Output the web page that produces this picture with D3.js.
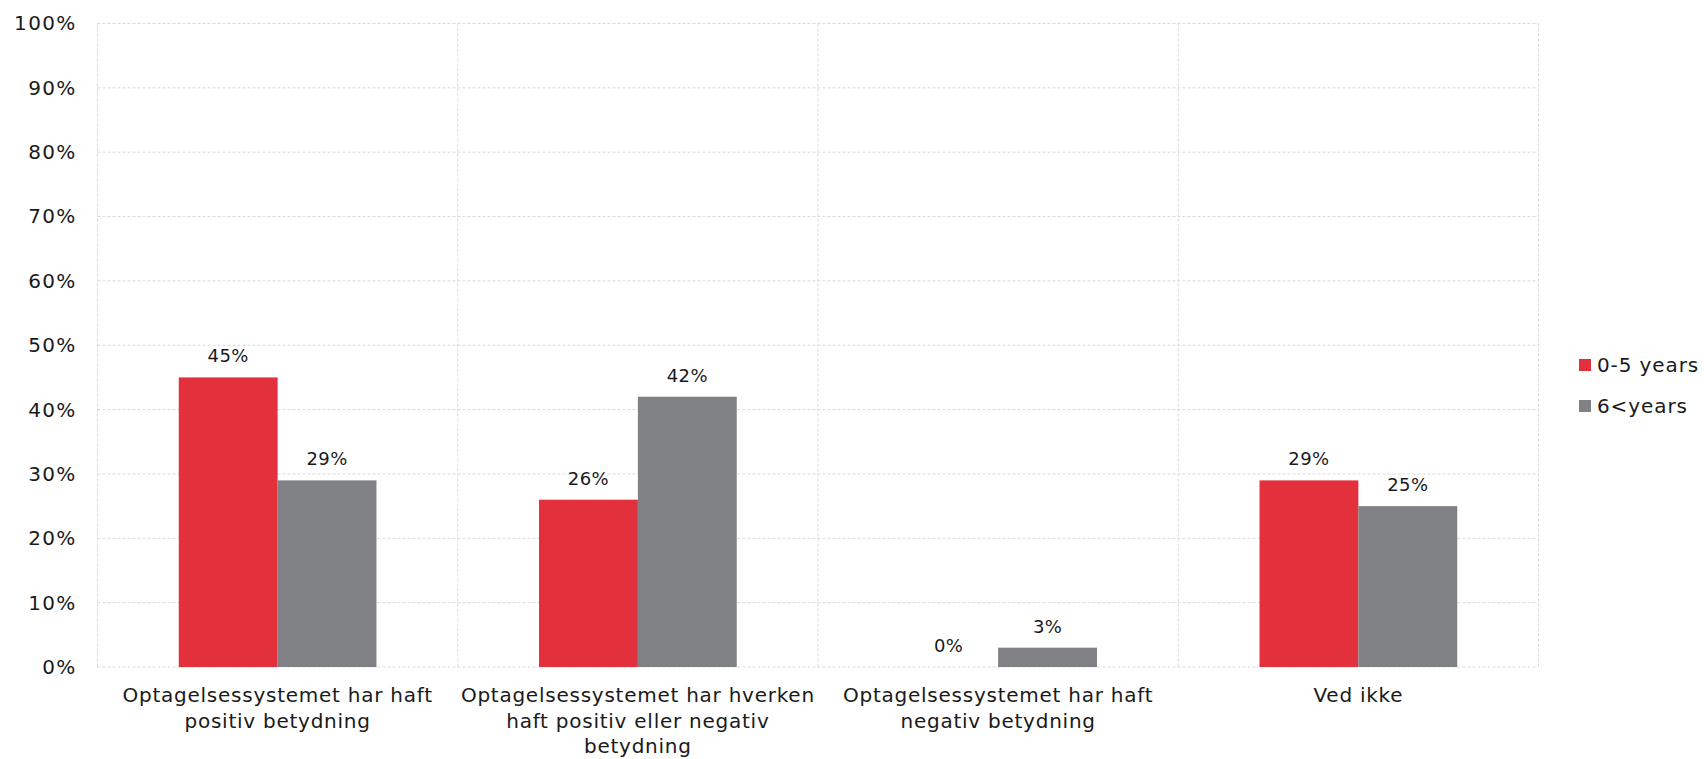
<!DOCTYPE html>
<html>
<head>
<meta charset="utf-8">
<script src="https://cdn.jsdelivr.net/npm/d3@7"></script>
<style>
  html, body { margin: 0; padding: 0; background: #ffffff; }
  svg { display: block; font-family: "DejaVu Sans", Verdana, sans-serif; }
</style>
</head>
<body>
<svg id="chart" width="1704" height="759"></svg>
<script>
// Survey answers by years of experience
const categories = [
  "Optagelsessystemet har haft positiv betydning",
  "Optagelsessystemet har hverken haft positiv eller negativ betydning",
  "Optagelsessystemet har haft negativ betydning",
  "Ved ikke"
];
const seriesNames = ["0-5 years", "6<years"];
const seriesColors = ["#e2313d", "#808184"];
const values05 = [0.45, 0.26, 0.00, 0.29];
const values6plus = [0.29, 0.42, 0.03, 0.25];
const yTicks = [0, 0.1, 0.2, 0.3, 0.4, 0.5, 0.6, 0.7, 0.8, 0.9, 1.0];

const seriesValues = [values05, values6plus];

const svg = d3.select("#chart");
const margin = { left: 97.5, right: 1704 - 1538.5, top: 23.5, bottom: 759 - 667 };
const W = 1704, H = 759;
const plotW = W - margin.left - margin.right;
const plotH = H - margin.top - margin.bottom;
const textColor = "#1a1a1a";

const g = svg.append("g").attr("transform", `translate(${margin.left},${margin.top})`);

const x0 = d3.scaleBand().domain(categories).range([0, plotW]).paddingInner(0).paddingOuter(0);
const x1 = d3.scaleBand().domain(seriesNames).range([0, x0.bandwidth()]).paddingInner(0).paddingOuter(0.822);
const y = d3.scaleLinear().domain([0, 1]).range([plotH, 0]);

const gridColor = "#d9d9d9";

// horizontal gridlines
g.append("g")
  .selectAll("line")
  .data(yTicks)
  .join("line")
  .attr("x1", 0).attr("x2", plotW)
  .attr("y1", d => y(d)).attr("y2", d => y(d))
  .attr("stroke", gridColor)
  .attr("stroke-width", 1)
  .attr("stroke-dasharray", "3,2");

// vertical category separators
const sepPositions = categories.map(c => x0(c)).concat([plotW]);
g.append("g")
  .selectAll("line")
  .data(sepPositions)
  .join("line")
  .attr("x1", d => d).attr("x2", d => d)
  .attr("y1", 0).attr("y2", plotH)
  .attr("stroke", gridColor)
  .attr("stroke-width", 1)
  .attr("stroke-dasharray", "3,2");

// y axis labels
const yAxis = d3.axisLeft(y).tickValues(yTicks).tickFormat(d3.format(".0%")).tickSize(0).tickPadding(21);
const ya = g.append("g").call(yAxis);
ya.select(".domain").remove();
ya.selectAll("text")
  .attr("font-size", 20)
  .attr("letter-spacing", 1.3)
  .attr("fill", textColor)
  .attr("font-family", "DejaVu Sans, Verdana, sans-serif");

// bars
const groups = g.append("g")
  .selectAll("g")
  .data(categories)
  .join("g")
  .attr("transform", c => `translate(${x0(c)},0)`);

const cellData = (c, i) => seriesNames.map((s, k) => ({ s, k, v: seriesValues[k][i] }));

groups.selectAll("rect")
  .data(cellData)
  .join("rect")
  .attr("x", d => x1(d.s))
  .attr("width", x1.bandwidth())
  .attr("y", d => y(d.v))
  .attr("height", d => plotH - y(d.v))
  .attr("fill", d => seriesColors[d.k]);

groups.selectAll("text.val")
  .data(cellData)
  .join("text")
  .attr("class", "val")
  .attr("x", d => x1(d.s) + x1.bandwidth() / 2)
  .attr("y", d => y(d.v) - 15)
  .attr("text-anchor", "middle")
  .attr("font-size", 18)
  .attr("letter-spacing", 0.4)
  .attr("fill", textColor)
  .text(d => d3.format(".0%")(d.v));

// category labels, wrapped to band width
const xLabels = g.append("g")
  .selectAll("text")
  .data(categories)
  .join("text")
  .attr("x", c => x0(c) + x0.bandwidth() / 2)
  .attr("y", plotH + 35)
  .attr("text-anchor", "middle")
  .attr("font-size", 20)
  .attr("letter-spacing", 0.75)
  .attr("fill", textColor);

xLabels.each(function(c) {
  const text = d3.select(this);
  const words = c.split(/\s+/);
  const maxW = x0.bandwidth() - 2;
  let line = [];
  let tspan = text.append("tspan").attr("x", text.attr("x")).attr("dy", 0);
  for (const w of words) {
    line.push(w);
    tspan.text(line.join(" "));
    if (tspan.node().getComputedTextLength() > maxW && line.length > 1) {
      line.pop();
      tspan.text(line.join(" "));
      line = [w];
      tspan = text.append("tspan").attr("x", text.attr("x")).attr("dy", 25.5).text(w);
    }
  }
});

// legend
const legend = svg.append("g").attr("transform", "translate(1579,359)");
const li = legend.selectAll("g")
  .data(seriesNames)
  .join("g")
  .attr("transform", (d, i) => `translate(0,${i * 41})`);
li.append("rect")
  .attr("width", 12).attr("height", 12)
  .attr("fill", (d, i) => seriesColors[i]);
li.append("text")
  .attr("x", 18).attr("y", 12.5)
  .attr("font-size", 20)
  .attr("letter-spacing", 0.9)
  .attr("fill", textColor)
  .text(d => d);
</script>
</body>
</html>
